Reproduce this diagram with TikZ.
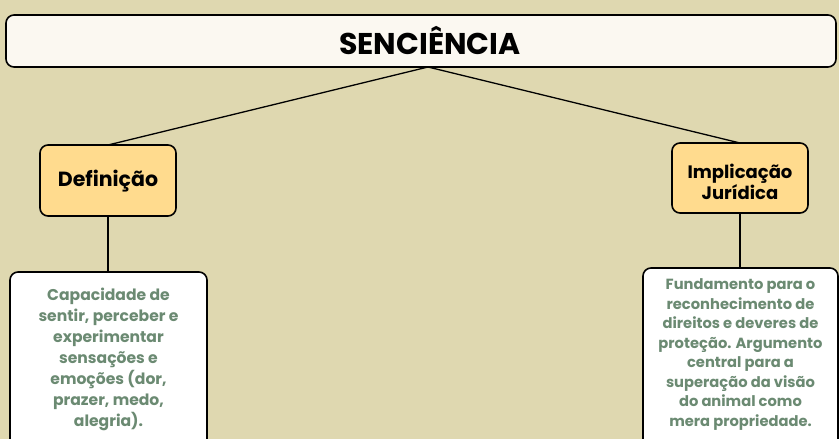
\documentclass[tikz,border=0pt]{standalone}
\usepackage{fontspec}
\setmainfont{Poppins}[BoldFont={Poppins Bold}]
\definecolor{bg}{HTML}{DFD8B0}
\definecolor{titlefill}{HTML}{FBF8F1}
\definecolor{orangefill}{HTML}{FFDB8E}
\definecolor{txtgreen}{HTML}{6B8A72}
\begin{document}
\begin{tikzpicture}[x=1pt,y=-1pt,
  box/.style={draw=black,line width=1.6pt,rounded corners=8pt},
  conn/.style={draw=black,line width=1.3pt},
  lbl/.style={font=\fontsize{20.5}{19}\selectfont\bfseries,align=center,text=black},
  body/.style={font=\fontsize{15.6}{21}\selectfont\bfseries,align=center,text=txtgreen}]
\fill[bg] (0,0) rectangle (839,439);
\useasboundingbox (0,0) rectangle (839,439);
\clip (0,0) rectangle (839,439);
% title
\draw[box,fill=titlefill] (6,15) rectangle (836,67);
\node[font=\fontsize{30}{30}\selectfont\bfseries] (title) at (430,41) {SENCIÊNCIA};
\coordinate (tb) at (428,67);
% definicao
\draw[box,fill=orangefill] (40,145) rectangle (176,216);
\node[lbl] (def) at (108,181) {Definição};
\coordinate (deftop) at (108,145);
\coordinate (defbot) at (108,216);
% implicacao
\draw[box,fill=orangefill] (672,143) rectangle (808,213);
\node[lbl,font=\fontsize{18}{19}\selectfont\bfseries] (imp) at (740,182) {Implicação\\Jurídica};
\coordinate (imptop) at (740,143);
\coordinate (impbot) at (740,213);
% white boxes
\draw[box,fill=white] (10,272) rectangle (207,455);
\node[body] (defbody) at (108.5,359) {Capacidade de\\sentir, perceber e\\experimentar\\sensações e\\emoções (dor,\\prazer, medo,\\alegria).};
\coordinate (dbtop) at (108,272);
\draw[box,fill=white] (643,268) rectangle (838,455);
\node[body,font=\fontsize{14.7}{19.5}\selectfont\bfseries] (impbody) at (740.5,354.5) {Fundamento para o\\reconhecimento de\\direitos e deveres de\\proteção. Argumento\\central para a\\superação da visão\\do animal como\\mera propriedade.};
\coordinate (ibtop) at (740,268);
% connectors
\draw[conn] (tb) -- (deftop);
\draw[conn] (tb) -- (imptop);
\draw[conn] (defbot) -- (dbtop);
\draw[conn] (impbot) -- (ibtop);
\end{tikzpicture}
\end{document}
